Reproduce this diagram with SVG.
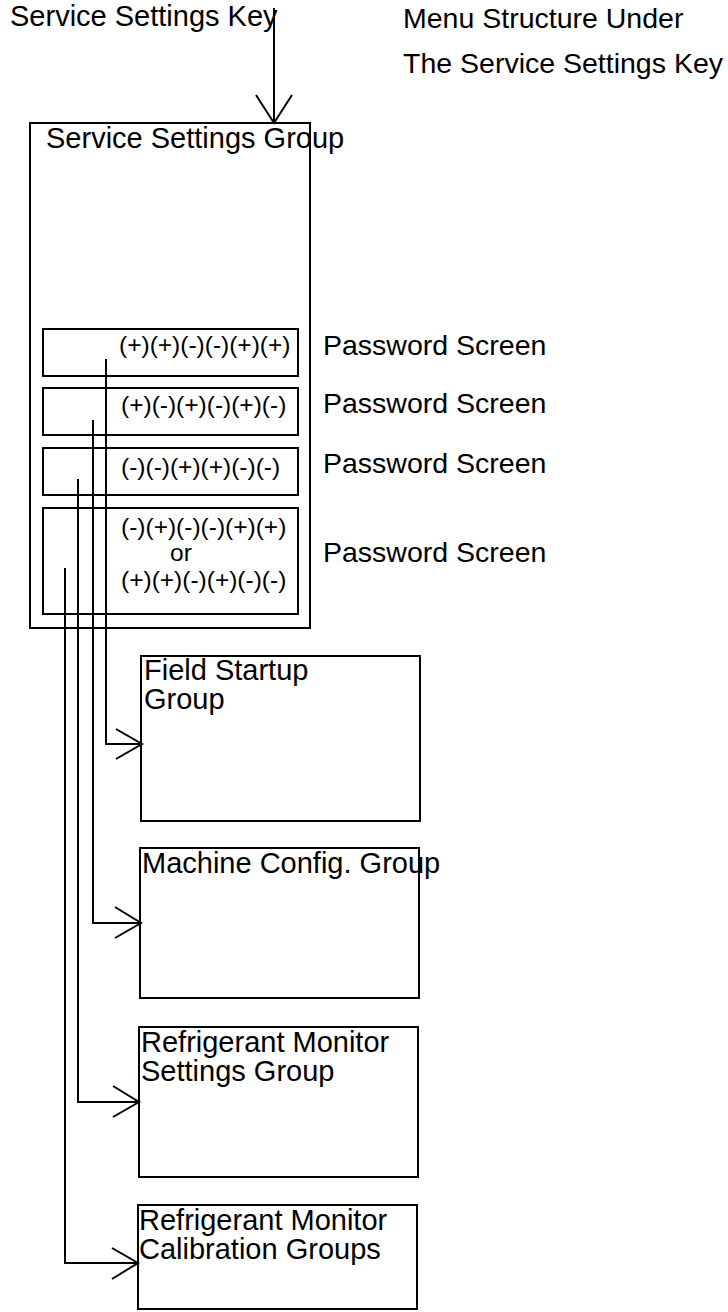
<svg xmlns="http://www.w3.org/2000/svg" width="728" height="1312" viewBox="0 0 728 1312">
<style>
text{font-family:"Liberation Sans",Arial,sans-serif;fill:#000}
.t29{font-size:29px}
.t285{font-size:28.5px}
.t24{font-size:24.5px}
.box{fill:none;stroke:#000;stroke-width:2}
.ln{fill:none;stroke:#000;stroke-width:2}
</style>
<rect width="728" height="1312" fill="#fff"/>
<g id="title">
<text class="t29" x="10" y="26">Service Settings Key</text>
<text class="t285" x="403" y="28">Menu Structure Under</text>
<text class="t285" x="403" y="73">The Service Settings Key</text>
</g>
<g id="service-settings-group">
<rect class="box" x="30" y="123" width="280" height="505"/>
<text class="t29" x="46" y="148">Service Settings Group</text>
</g>
<g id="pw1">
<rect class="box" x="43" y="329" width="255" height="47"/>
<text class="t24" x="119" y="353">(+)(+)(-)(-)(+)(+)</text>
<text class="t285" x="323" y="355">Password Screen</text>
</g>
<g id="pw2">
<rect class="box" x="43" y="388" width="255" height="47"/>
<text class="t24" x="121" y="413">(+)(-)(+)(-)(+)(-)</text>
<text class="t285" x="323" y="413">Password Screen</text>
</g>
<g id="pw3">
<rect class="box" x="43" y="448" width="255" height="47"/>
<text class="t24" x="121" y="475">(-)(-)(+)(+)(-)(-)</text>
<text class="t285" x="323" y="473">Password Screen</text>
</g>
<g id="pw4">
<rect class="box" x="43" y="508" width="255" height="106"/>
<text class="t24" x="121" y="535">(-)(+)(-)(-)(+)(+)</text>
<text class="t24" x="170" y="561">or</text>
<text class="t24" x="121" y="588">(+)(+)(-)(+)(-)(-)</text>
<text class="t285" x="323" y="562">Password Screen</text>
</g>
<g id="field-startup">
<rect class="box" x="141" y="656" width="279" height="165"/>
<text class="t29" x="144" y="680">Field Startup</text>
<text class="t29" x="144" y="709">Group</text>
</g>
<g id="machine-config">
<rect class="box" x="140" y="848" width="279" height="150"/>
<text class="t29" x="142" y="873">Machine Config. Group</text>
</g>
<g id="refrigerant-monitor-settings">
<rect class="box" x="139" y="1027" width="279" height="150"/>
<text class="t29" x="141" y="1052">Refrigerant Monitor</text>
<text class="t29" x="141" y="1081">Settings Group</text>
</g>
<g id="refrigerant-monitor-calibration">
<rect class="box" x="138" y="1205" width="279" height="104"/>
<text class="t29" x="139" y="1230">Refrigerant Monitor</text>
<text class="t29" x="139" y="1259">Calibration Groups</text>
</g>
<g id="connectors">
<path class="ln" d="M274 8V123M256 95L274 123L292 95"/>
<path class="ln" d="M106 359V744H142M116 729L142 744L116 759"/>
<path class="ln" d="M93 420V923H141M115 907L141 923L115 938"/>
<path class="ln" d="M78 479V1102H139M113 1086L139 1102L113 1117"/>
<path class="ln" d="M65 568V1263H138M112 1248L138 1263L112 1279"/>
</g>
</svg>
